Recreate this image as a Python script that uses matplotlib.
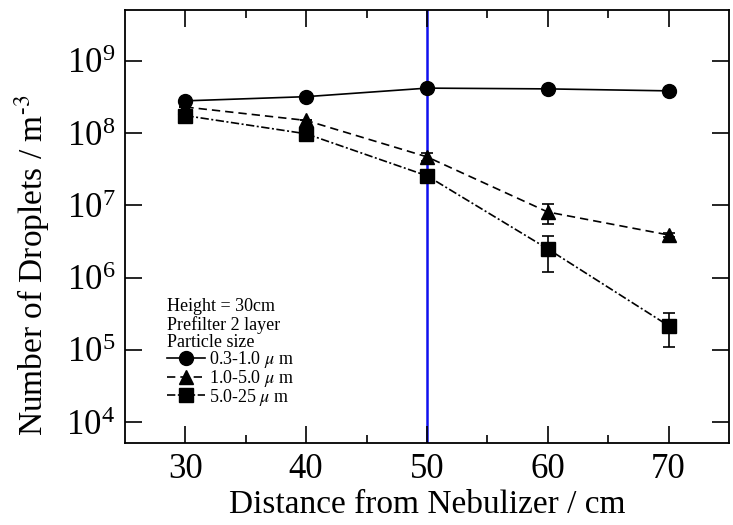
import numpy as np
import matplotlib
matplotlib.use("Agg")
import matplotlib.pyplot as plt
from matplotlib.lines import Line2D
from matplotlib.ticker import LogLocator, FixedLocator

plt.rcParams['font.family'] = ['Liberation Serif', 'DejaVu Serif']
plt.rcParams['mathtext.fontset'] = 'stix'

# data
distance = [30, 40, 50, 60, 70]
small = [2.8e8, 3.2e8, 4.2e8, 4.1e8, 3.85e8]          # 0.3-1.0 um
small_err = [0, 0, 0, 0, 0]
medium = [2.3e8, 1.5e8, 4.7e7, 8.1e6, 3.9e6]          # 1.0-5.0 um
medium_err = [0, 0, 6e6, 2.5e6, 3e5]
large = [1.75e8, 9.8e7, 2.57e7, 2.5e6, 2.16e5]        # 5.0-25 um
large_err = [0, 0, 0, 1.3e6, 1.05e5]
labels = [r'0.3-1.0 $\mu$ m', r'1.0-5.0 $\mu$ m', r'5.0-25 $\mu$ m']

fig = plt.figure(figsize=(7.33, 5.25), dpi=100)
ax = fig.add_axes([0.1705, 0.156, 0.824, 0.825])

ax.axvline(50, color='#1010ee', lw=1.8, zorder=1)

styles = [dict(ls='-', marker='o'),
          dict(ls=(0, (5, 3)), marker='^'),
          dict(ls=(0, (5, 1.5, 1.2, 1.5)), marker='s')]
series = [(small, small_err), (medium, medium_err), (large, large_err)]

handles = []
for (vals, err), st, lab in zip(series, styles, labels):
    ax.errorbar(distance, vals, yerr=err, fmt='none', ecolor='black',
                elinewidth=1.2, capsize=4, capthick=1.2, zorder=2)
    ax.plot(distance, vals, color='black', lw=1.2, ms=10, zorder=3, **st)
    handles.append(Line2D([], [], color='black', lw=1.2, ms=10, label=lab, **st))

ax.set_yscale('log')
ax.set_xlim(25, 75)
ax.set_ylim(10**3.71, 10**9.705)
ax.yaxis.set_major_locator(LogLocator(base=10, numticks=20))
ax.yaxis.set_minor_locator(FixedLocator([]))
ax.set_xticks([30, 40, 50, 60, 70])
ax.set_xticks([35, 45, 55, 65], minor=True)

ax.tick_params(which='both', direction='in', top=True, right=True, width=1.2)
ax.tick_params(which='major', length=12, labelsize=25, pad=7)
ax.tick_params(which='minor', length=6)
for s in ax.spines.values():
    s.set_linewidth(1.3)

ax.set_xlabel('Distance from Nebulizer / cm', fontsize=24)
ax.xaxis.set_label_coords(0.5, -0.108)
ax.set_ylabel(r'Number of Droplets / m$^{\text{-}3}$', fontsize=24)
ax.yaxis.set_label_coords(-0.12, 0.41)

leg = ax.legend(handles=handles, loc='upper left', bbox_to_anchor=(0.07, 0.335),
                frameon=False, fontsize=13,
                title='Height = 30cm\nPrefilter 2 layer\nParticle size',
                title_fontsize=13, alignment='left', handlelength=2.1,
                handletextpad=0.2, labelspacing=-0.12, borderpad=0,
                borderaxespad=0)
leg.get_title().set_linespacing(1.05)

fig.savefig('out.png', dpi=100)
